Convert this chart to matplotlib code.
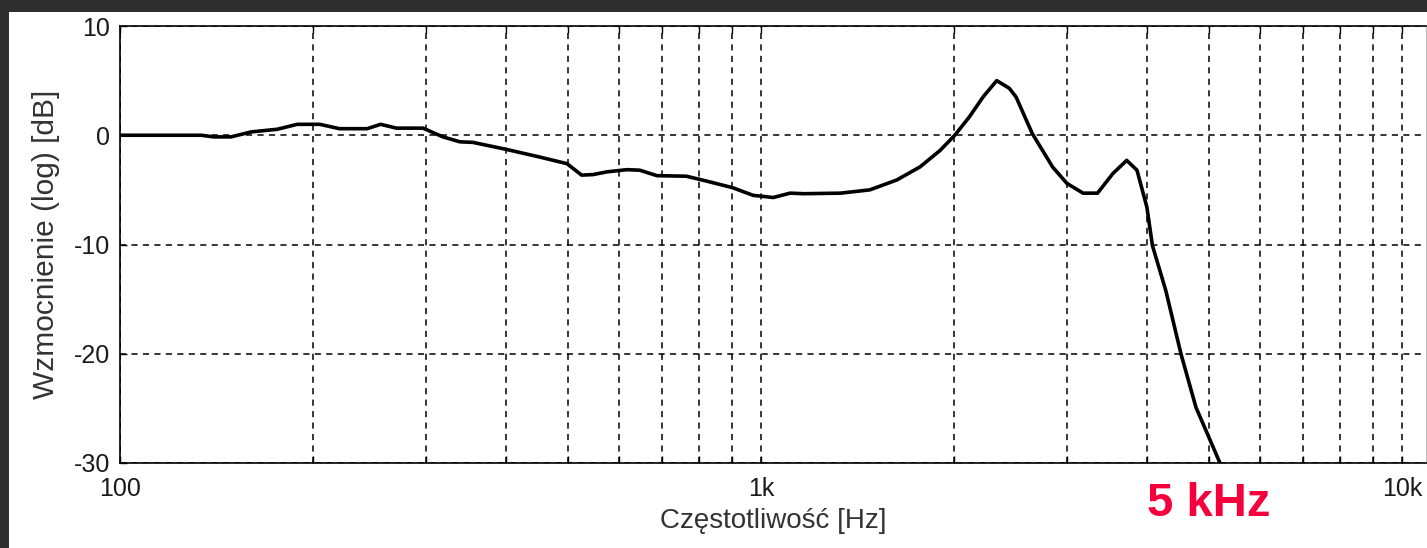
import numpy as np
import matplotlib.pyplot as plt
from matplotlib.ticker import FixedLocator, FixedFormatter, NullFormatter

plt.rcParams['font.family'] = ['Liberation Sans', 'DejaVu Sans']
plt.rcParams['axes.unicode_minus'] = False

# frequency response
freq = [100, 120, 134, 140, 149, 160, 176, 189, 205, 220, 243, 255, 270, 297, 319,
        339, 355, 401, 452, 498, 525, 547, 575, 618, 647, 688, 765, 823, 903, 972,
        1045, 1110, 1166, 1331, 1478, 1628, 1770, 1902, 2006, 2115, 2220, 2332,
        2440, 2500, 2650, 2850, 3000, 3180, 3350, 3540, 3720, 3860, 4000, 4080,
        4280, 4520, 4770, 5200]
gain = [0.0, 0.0, 0.0, -0.15, -0.15, 0.3, 0.55, 1.0, 1.0, 0.6, 0.6, 1.0, 0.65,
        0.65, -0.15, -0.6, -0.65, -1.3, -2.0, -2.6, -3.65, -3.6, -3.35, -3.15,
        -3.2, -3.7, -3.75, -4.2, -4.8, -5.5, -5.7, -5.3, -5.35, -5.3, -5.0, -4.1,
        -2.9, -1.4, 0.0, 1.7, 3.5, 5.0, 4.3, 3.5, 0.15, -2.9, -4.4, -5.3, -5.3,
        -3.5, -2.3, -3.2, -6.6, -10.1, -14.2, -20.0, -24.9, -30.0]

x_major = [100, 1000, 10000]
x_labels = ['100', '1k', '10k']
x_minor = [m * d for d in (100, 1000) for m in range(2, 10)]
y_ticks = [-30, -20, -10, 0, 10]

W, H = 1427, 548
fig = plt.figure(figsize=(W / 100, H / 100), dpi=100)
fig.patch.set_facecolor('#2e2e2e')
fig.add_artist(plt.Rectangle((9 / W, 0), 1, 1 - 12 / H, transform=fig.transFigure,
                             facecolor='white', edgecolor='none', zorder=0))

ax = fig.add_axes([120 / W, 85 / H, (1426 - 120) / W, (463 - 26) / H])
ax.set_facecolor('white')
ax.semilogx(freq, gain, color='black', lw=2.6, zorder=3, clip_on=True,
            solid_joinstyle='round')

ax.set_xlim(100, 100 * 10 ** ((1426 - 120) / 641))
ax.set_ylim(-30, 10)
ax.xaxis.set_major_locator(FixedLocator(x_major))
ax.xaxis.set_major_formatter(FixedFormatter(x_labels))
ax.xaxis.set_minor_locator(FixedLocator(x_minor))
ax.xaxis.set_minor_formatter(NullFormatter())
ax.set_yticks(y_ticks)

ax.grid(True, which='both', color='black', linestyle=(0, (4, 3.5)), lw=1.1)
ax.tick_params(which='both', direction='in', top=True, right=False, length=5,
               width=1.0, labelsize=18, colors='black', labelcolor='#1a1a1a')
ax.tick_params(axis='x', pad=10)
ax.tick_params(axis='y', pad=7)

for side in ('left', 'top', 'bottom'):
    ax.spines[side].set_linewidth(1.2)
ax.spines['right'].set_color('#bbbbbb')
ax.spines['right'].set_linewidth(0.8)

ax.set_xlabel('Częstotliwość [Hz]', fontsize=20, color='#333333', labelpad=5)
ax.set_ylabel('Wzmocnienie (log) [dB]', fontsize=21.5, color='#333333', labelpad=10)

fig.text(1209 / W, 1 - 504 / H, '5 kHz', color='#f5003c', fontsize=34,
         fontweight='bold', ha='center', va='center')

fig.savefig('out.png', dpi=100, facecolor=fig.get_facecolor())
